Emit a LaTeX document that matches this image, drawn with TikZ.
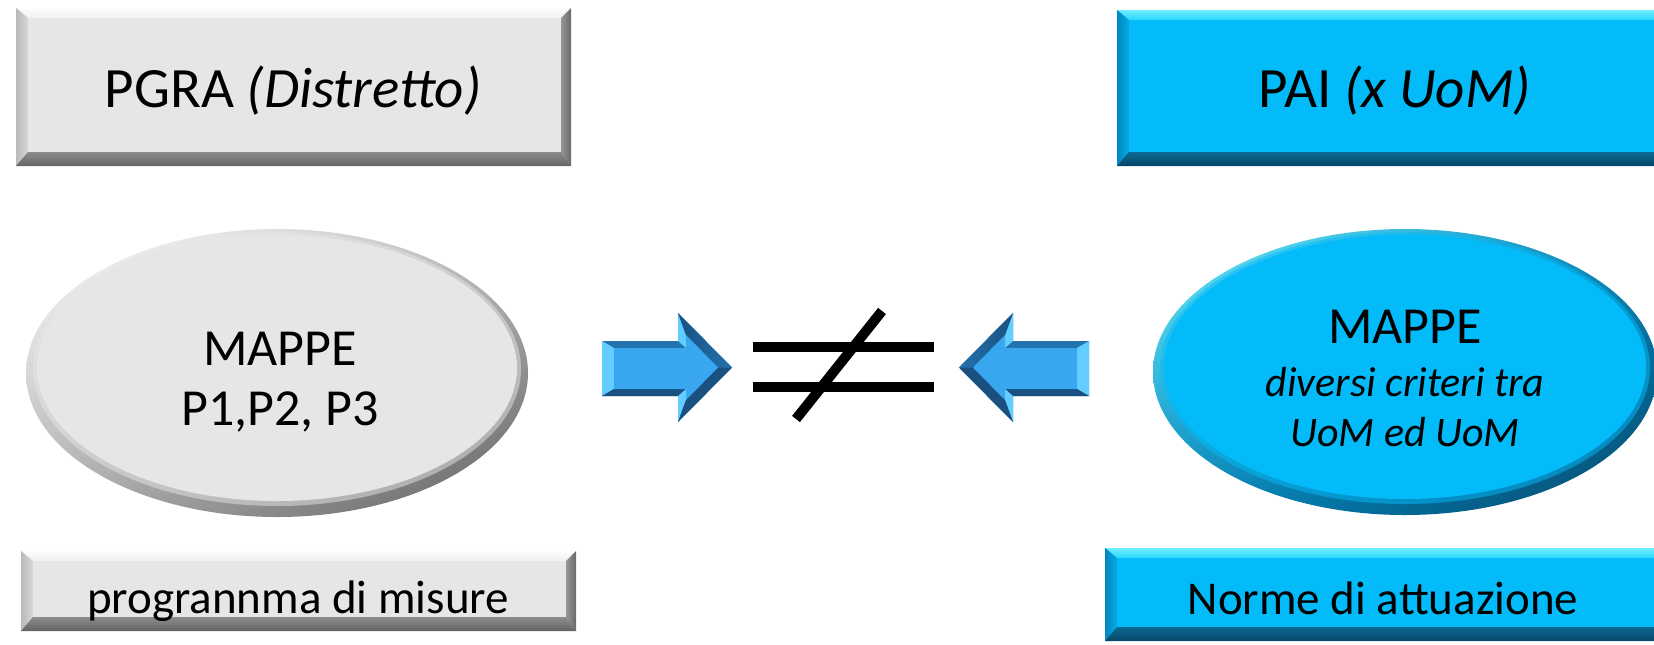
\documentclass[tikz,border=0pt]{standalone}
\usepackage{fontspec}
\setmainfont{Carlito}
\usetikzlibrary{shadings}
\definecolor{gface}{RGB}{230,230,230}
\definecolor{gtopA}{RGB}{252,252,252}
\definecolor{gtopB}{RGB}{240,240,240}
\definecolor{gleftA}{RGB}{185,185,185}
\definecolor{gleftB}{RGB}{215,215,215}
\definecolor{grightA}{RGB}{150,150,150}
\definecolor{grightB}{RGB}{105,105,105}
\definecolor{gbotA}{RGB}{140,140,140}
\definecolor{gbotB}{RGB}{100,100,100}
\definecolor{gellUL}{RGB}{255,255,255}
\definecolor{gellUR}{RGB}{190,190,190}
\definecolor{gellLL}{RGB}{175,175,175}
\definecolor{gellLR}{RGB}{95,95,95}
\definecolor{bface}{RGB}{4,187,250}
\definecolor{btopA}{RGB}{110,238,255}
\definecolor{btopB}{RGB}{40,215,255}
\definecolor{bleftA}{RGB}{0,135,190}
\definecolor{bleftB}{RGB}{5,170,230}
\definecolor{brightA}{RGB}{5,120,170}
\definecolor{brightB}{RGB}{5,90,130}
\definecolor{bbotA}{RGB}{12,105,145}
\definecolor{bbotB}{RGB}{5,70,105}
\definecolor{arrdark}{RGB}{25,80,128}
\definecolor{arrmid}{RGB}{35,115,175}
\definecolor{arrmain}{RGB}{56,167,240}
\definecolor{arrlight}{RGB}{100,205,255}
\newcommand\bevelbox[5]{%
  \fill[#5face] (#1,#2) rectangle (#3,#4);
  \shade[top color=#5topA, bottom color=#5topB] (#1,#2) -- (#3,#2) -- ({#3-10},{#2+10}) -- ({#1+12},{#2+10}) -- cycle;
  \shade[left color=#5leftA, right color=#5leftB] (#1,#2) -- ({#1+12},{#2+10}) -- ({#1+12},{#4-14}) -- (#1,#4) -- cycle;
  \shade[left color=#5rightA, right color=#5rightB] (#3,#2) -- ({#3-10},{#2+10}) -- ({#3-10},{#4-14}) -- (#3,#4) -- cycle;
  \shade[top color=#5botA, bottom color=#5botB] (#1,#4) -- ({#1+12},{#4-14}) -- ({#3-10},{#4-14}) -- (#3,#4) -- cycle;
}
\tikzset{
  bigtxt/.style={anchor=base, inner sep=0pt, font=\fontsize{57}{68}\selectfont},
  elltxt/.style={anchor=base, inner sep=0pt, font=\fontsize{52}{60}\selectfont},
  itxt/.style={anchor=base, inner sep=0pt, font=\fontsize{42}{50}\selectfont\itshape},
  smalltxt/.style={anchor=base, inner sep=0pt, font=\fontsize{47}{56}\selectfont},
  neqline/.style={line width=10pt, black}
}
\begin{document}
\begin{tikzpicture}[x=1pt,y=-1pt]
\useasboundingbox (0,0) rectangle (1654,645);
% boxes
\bevelbox{16}{8}{571}{166}{g}
\bevelbox{1117}{10}{1668}{166}{b}
\bevelbox{21}{551}{576}{631}{g}
\bevelbox{1105}{548}{1668}{641}{b}
% left ellipse
\shade[upper left=gellUL, upper right=gellUR, lower left=gellLL, lower right=gellLR] (277,373) ellipse [x radius=251, y radius=144];
\fill[gface, opacity=0.5] (277,369) ellipse [x radius=244, y radius=137];
\fill[gface] (277,368) ellipse [x radius=240, y radius=133];
% right ellipse
\shade[upper left=btopA, upper right=bleftA, lower left=bleftA, lower right=bbotB] (1405,372) ellipse [x radius=252, y radius=143];
\fill[bface, opacity=0.5] (1405,368) ellipse [x radius=245, y radius=136];
\fill[bface] (1405,367) ellipse [x radius=241, y radius=132];
% left arrow
\fill[arrmid] (602,341) -- (678,341) -- (678,313) -- (732,367.5) -- (678,422) -- (678,396) -- (602,396) -- cycle;
\fill[arrlight] (602,341) -- (614,348) -- (614,389) -- (602,396) -- cycle;
\fill[arrdark] (602,396) -- (614,389) -- (686,389) -- (678,396) -- cycle;
\fill[arrlight] (678,313) -- (686,335) -- (686,348) -- (678,341) -- cycle;
\fill[arrlight] (678,422) -- (686,400) -- (686,389) -- (678,396) -- cycle;
\shade[left color=arrdark, right color=arrmid] (678,313) -- (732,367.5) -- (718,367.5) -- (686,335) -- cycle;
\fill[arrdark] (678,422) -- (732,367.5) -- (718,367.5) -- (686,400) -- cycle;
\fill[arrmain] (614,348) -- (686,348) -- (686,335) -- (718,367.5) -- (686,400) -- (686,389) -- (614,389) -- cycle;
% right arrow
\fill[arrmid] (1089,341) -- (1013,341) -- (1013,313) -- (959,367.5) -- (1013,422) -- (1013,396) -- (1089,396) -- cycle;
\fill[arrlight] (1089,341) -- (1077,348) -- (1077,389) -- (1089,396) -- cycle;
\fill[arrdark] (1089,396) -- (1077,389) -- (1005,389) -- (1013,396) -- cycle;
\fill[arrlight] (1013,313) -- (1005,335) -- (1005,348) -- (1013,341) -- cycle;
\fill[arrlight] (1013,422) -- (1005,400) -- (1005,389) -- (1013,396) -- cycle;
\shade[left color=arrmid, right color=arrdark] (1013,313) -- (959,367.5) -- (973,367.5) -- (1005,335) -- cycle;
\fill[arrdark] (1013,422) -- (959,367.5) -- (973,367.5) -- (1005,400) -- cycle;
\fill[arrmain] (1077,348) -- (1005,348) -- (1005,335) -- (973,367.5) -- (1005,400) -- (1005,389) -- (1077,389) -- cycle;
% not equal
\coordinate (n1a) at (753,347); \coordinate (n1b) at (934,347);
\coordinate (n2a) at (753,387); \coordinate (n2b) at (934,387);
\coordinate (s1) at (796,419); \coordinate (s2) at (882,311);
\draw[neqline] (n1a) -- (n1b);
\draw[neqline] (n2a) -- (n2b);
\draw[neqline] (s1) -- (s2);
% texts
\node[bigtxt] (pgra) at (293,107) {PGRA \textit{(Distretto)}};
\node[bigtxt] (pai) at (1395,107) {PAI \textit{(x UoM)}};
\node[elltxt] (mapL) at (280,365) {MAPPE};
\node[elltxt] (pL) at (280,425) {P1,P2, P3};
\node[elltxt] (mapR) at (1405,343) {MAPPE};
\node[itxt] (critR) at (1405,396) {diversi criteri tra};
\node[itxt] (uomR) at (1405,446) {UoM ed UoM};
\node[smalltxt] (prog) at (298,613) {progrannma di misure};
\node[smalltxt] (norme) at (1383,614) {Norme di attuazione};
\end{tikzpicture}
\end{document}
